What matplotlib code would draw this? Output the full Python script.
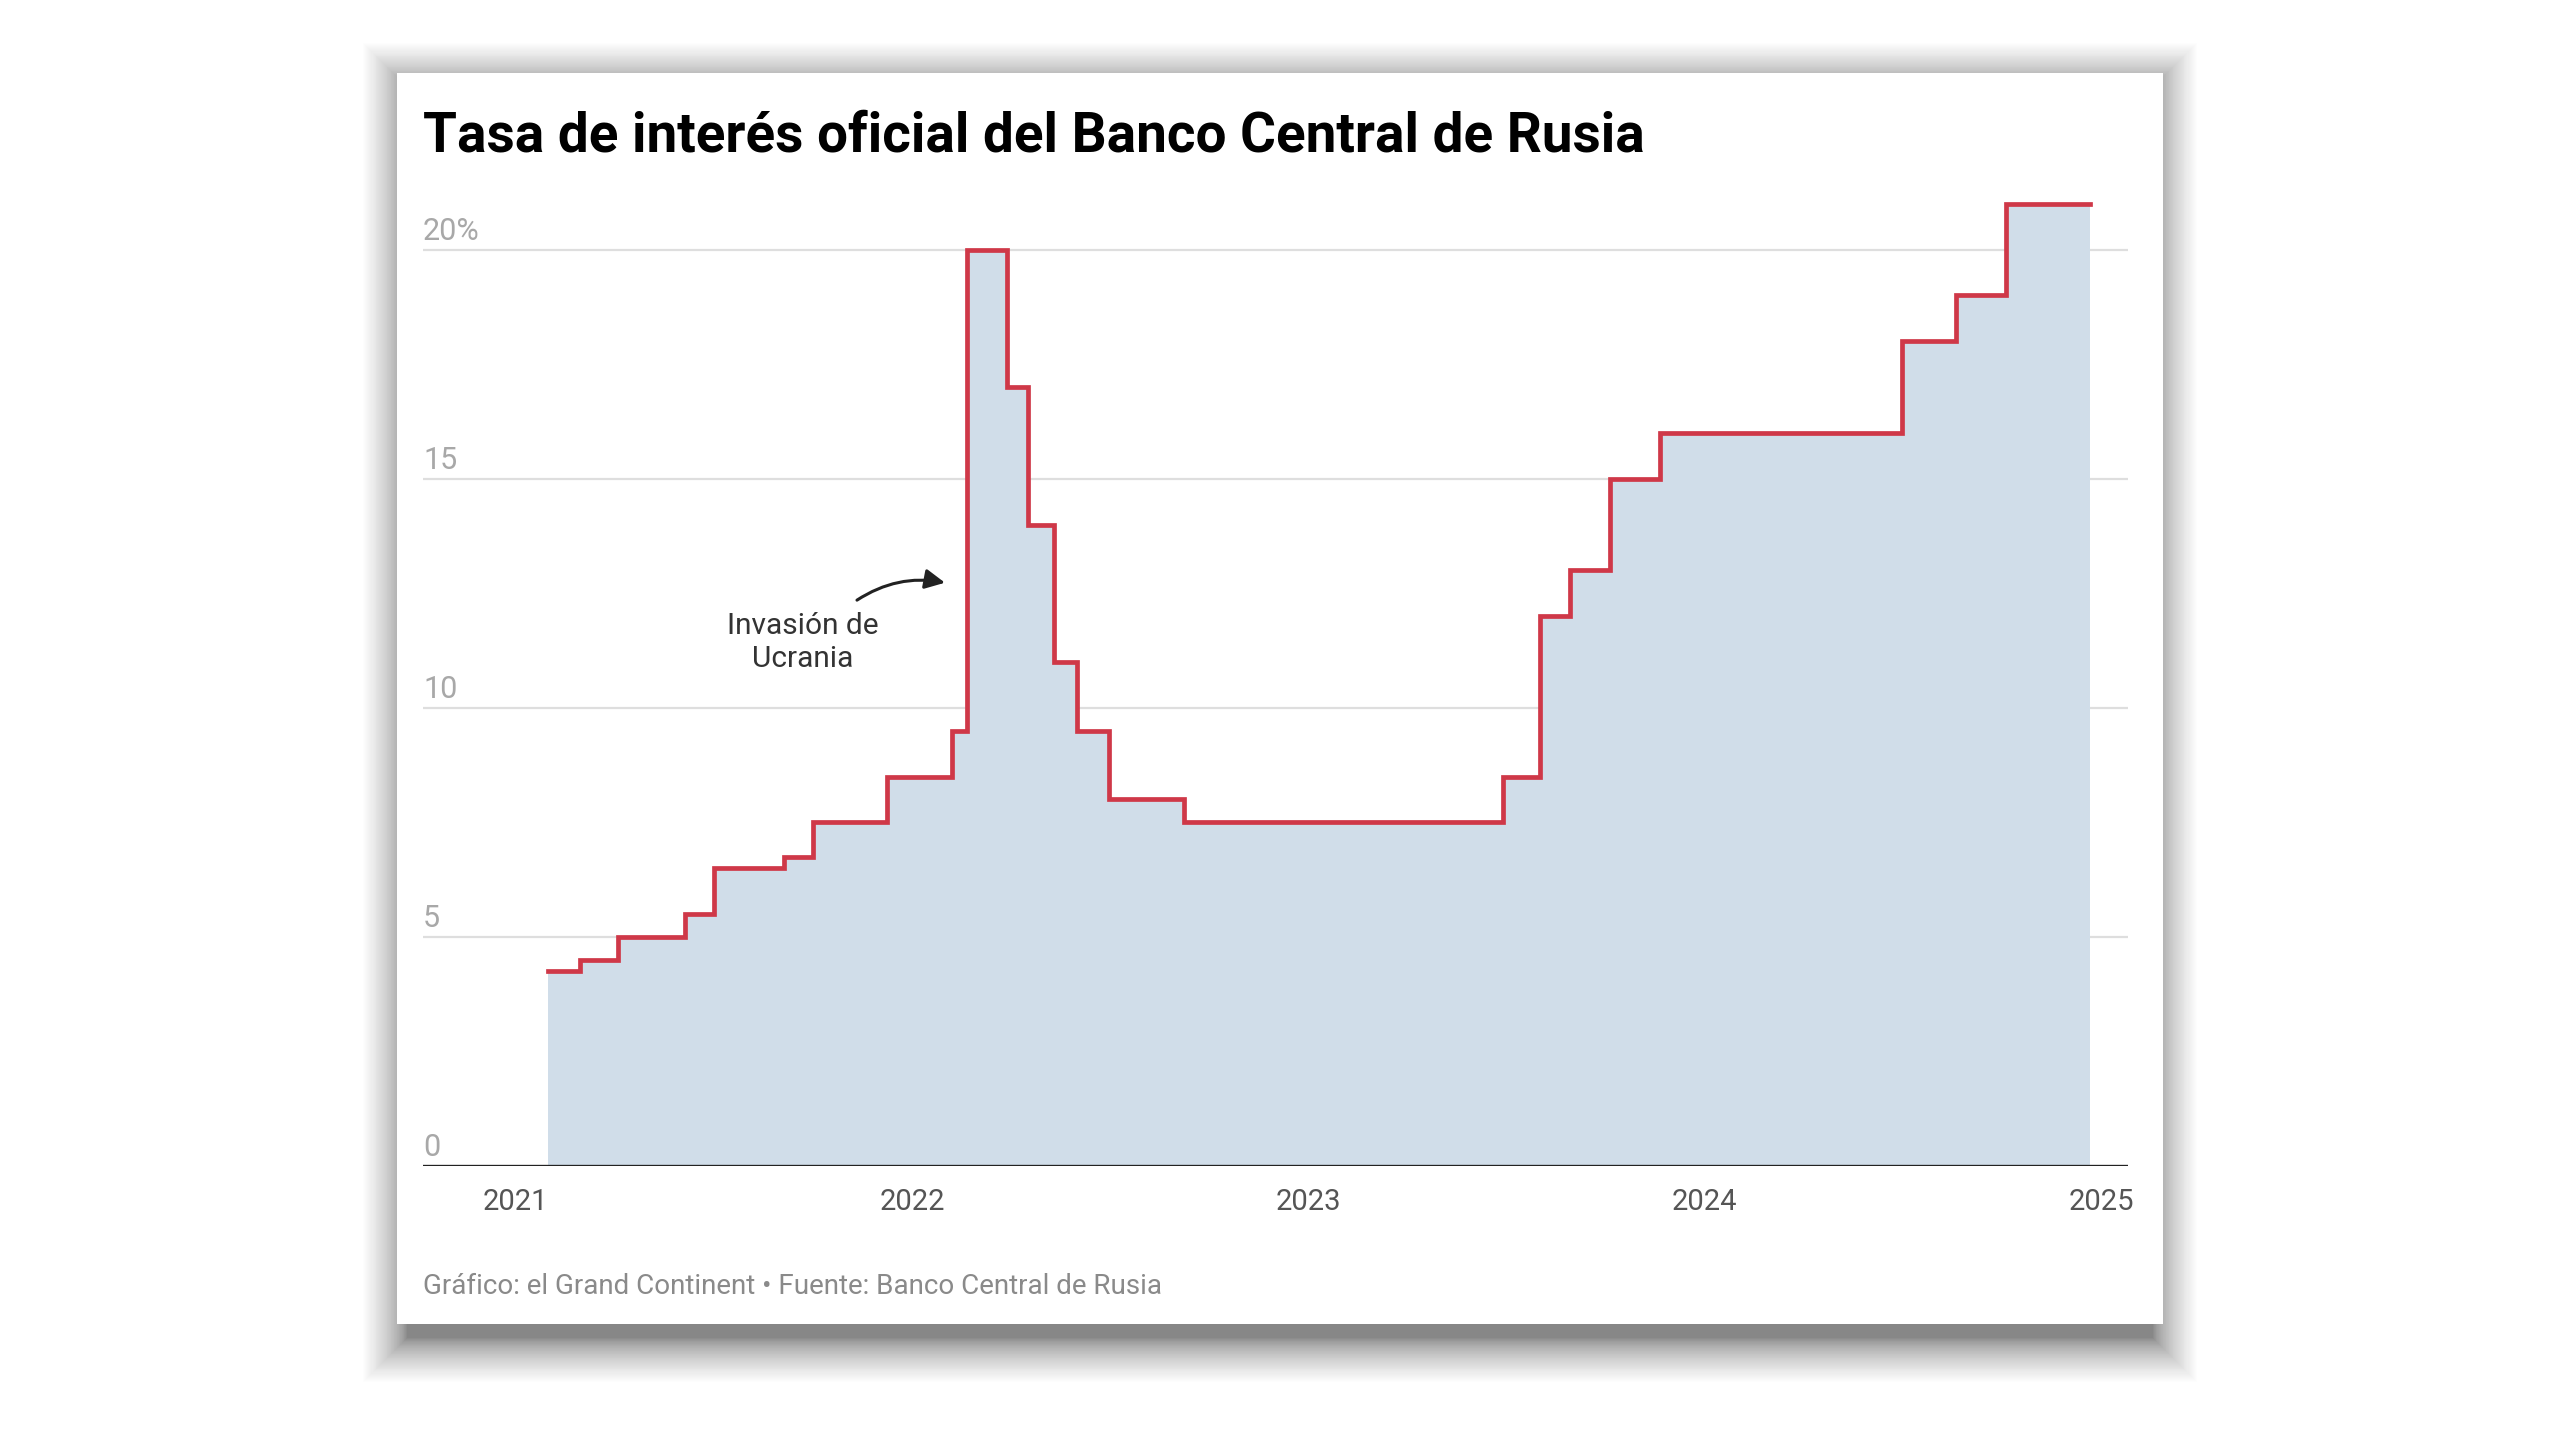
import matplotlib
matplotlib.use("Agg")
import matplotlib.pyplot as plt
from matplotlib.patches import Rectangle
import matplotlib.transforms as mtransforms

plt.rcParams["font.family"] = ["Roboto", "DejaVu Sans"]

# step dates (decimal years) and key rate (%)
change_year = [2021.082, 2021.163, 2021.258, 2021.427, 2021.500, 2021.677,
               2021.750, 2021.936, 2022.100, 2022.139, 2022.240, 2022.293,
               2022.359, 2022.417, 2022.497, 2022.685, 2023.492, 2023.584,
               2023.661, 2023.762, 2023.886, 2024.498, 2024.635, 2024.761,
               2024.972]
rate = [4.25, 4.5, 5.0, 5.5, 6.5, 6.75, 7.5, 8.5, 9.5, 20, 17, 14, 11, 9.5,
        8.0, 7.5, 8.5, 12, 13, 15, 16, 18, 19, 21, 21]

year_ticks = [2021, 2022, 2023, 2024, 2025]
y_ticks = [0, 5, 10, 15, 20]
y_labels = ["0", "5", "10", "15", "20%"]

W, H = 2560, 1440
LINE = "#cf3848"
FILL = "#d0dde9"


def fx(px):
    return px / W


def fy(py):
    return 1 - py / H


fig = plt.figure(figsize=(25.6, 14.4), dpi=100)
fig.patch.set_facecolor("white")

# card with soft drop shadow (stack of faint rectangles)
cx0, cx1, cy0, cy1 = 397, 2163, 73, 1324
n, G, drop, inset = 60, 44, 14, 10
bx0, bx1, by0, by1 = cx0 + inset, cx1 - inset, cy0 + drop, cy1 + drop
for k in range(1, n + 1):
    g = G * (k / n) ** 1.5
    fig.patches.append(Rectangle(
        (fx(bx0 - g), fy(by1 + g)), fx(bx1 - bx0 + 2 * g),
        (by1 - by0 + 2 * g) / H, transform=fig.transFigure,
        facecolor="black", alpha=0.009, edgecolor="none", zorder=0))
fig.patches.append(Rectangle((fx(cx0), fy(cy1)), fx(cx1 - cx0),
                             (cy1 - cy0) / H, transform=fig.transFigure,
                             facecolor="white", edgecolor="none", zorder=1))

ax = fig.add_axes([fx(423), fy(1166), fx(2128 - 423), (1166 - 158) / H])
ax.set_zorder(2)
ax.patch.set_alpha(0)

ax.fill_between(change_year, rate, 0, step="post", color=FILL, lw=0,
                zorder=1)
ax.step(change_year, rate, where="post", color=LINE, lw=3.4, zorder=3,
        solid_joinstyle="miter")

ax.set_xlim(2020.766, 2025.068)
ax.set_ylim(0, 22)

for v in y_ticks[1:]:
    ax.axhline(v, color="#dedede", lw=1.6, zorder=0.5)
ax.axhline(0, color="#222222", lw=2.4, zorder=4)

off = mtransforms.offset_copy(ax.get_yaxis_transform(), fig=fig, x=0,
                              y=7, units="points")
for v, lab in zip(y_ticks, y_labels):
    ax.text(0, v, lab, transform=off, ha="left", va="baseline",
            fontsize=22, color="#a8a8a8")

ax.set_xticks(year_ticks)
ax.set_xticklabels([str(y) for y in year_ticks], fontsize=21,
                   color="#555555")
ax.tick_params(axis="x", length=0, pad=16)
ax.set_yticks([])
for s in ax.spines.values():
    s.set_visible(False)

ax.annotate("", xy=(2022.083, 12.73), xytext=(2021.861, 12.35),
            arrowprops=dict(arrowstyle="-|>", color="#222222", lw=2.2,
                            mutation_scale=30, shrinkA=0, shrinkB=0,
                            connectionstyle="arc3,rad=-0.2"),
            zorder=5)
ax.text(2021.725, 11.42, "Invasión de\nUcrania", ha="center", va="center",
        fontsize=21.5, color="#333333", linespacing=1.22)

fig.text(fx(423), fy(151), "Tasa de interés oficial del Banco Central de Rusia",
         fontsize=39.5, fontweight="bold", color="black", ha="left",
         va="baseline", zorder=3)
fig.text(fx(423), fy(1286),
         "Gráfico: el Grand Continent • Fuente: Banco Central de Rusia",
         fontsize=20, color="#8a8a8a", ha="left", va="center", zorder=3)

fig.savefig("out.png", dpi=100)
